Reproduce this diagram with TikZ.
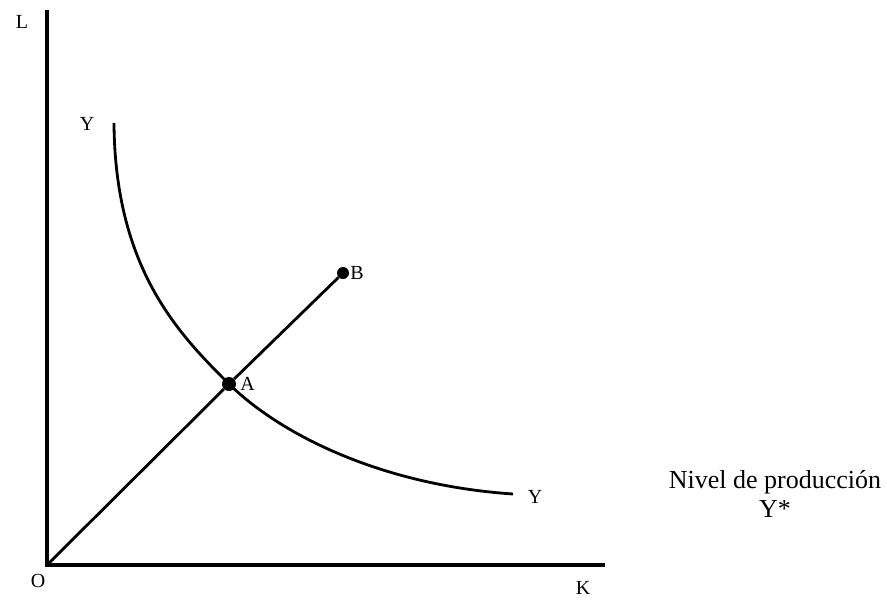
\documentclass[tikz,border=0pt]{standalone}
\usepackage{fontspec}
\setmainfont{Liberation Serif}
\begin{document}
\begin{tikzpicture}[
    x=1pt,
    y=-1pt,
    font=\fontsize{20}{22}\selectfont,
    eje/.style={line width=3.4pt},
    curva/.style={line width=2.8pt,line join=round},
    punto/.style={fill=black,circle,inner sep=0pt,minimum size=#1}
]
    \useasboundingbox (0,0) rectangle (887,600);

    % Ejes
    \coordinate (O) at (47,565);
    \coordinate (ejeL) at (47,10);
    \coordinate (ejeK) at (605,565);
    \draw[eje] (ejeL) -- (O) -- (ejeK);
    \node (lblL) at (22,22) {L};
    \node (lblO) at (38,581) {O};
    \node[inner sep=1pt] (lblK) at (583,588) {K};

    % Isocuanta
    \draw[curva] (114,123) .. controls (115,270) and (180,335) .. (229,384)
        .. controls (280,434) and (380,485) .. (513,494);
    \node (lblY1) at (87,124) {Y};
    \node (lblY2) at (535,497) {Y};

    % Rayo
    \node[punto=14pt] (A) at (229,384) {};
    \node[punto=12pt] (B) at (343,273) {};
    \draw[curva] (O) -- (A) -- (B);
    \node[anchor=west,inner sep=4pt] (lblA) at (A.east) {A};
    \node[anchor=west,inner sep=1pt] (lblB) at (B.east) {B};

    \node[font=\fontsize{26}{29}\selectfont,align=center]
        (nivel) at (775,494) {Nivel de producción\\Y*};
\end{tikzpicture}
\end{document}
